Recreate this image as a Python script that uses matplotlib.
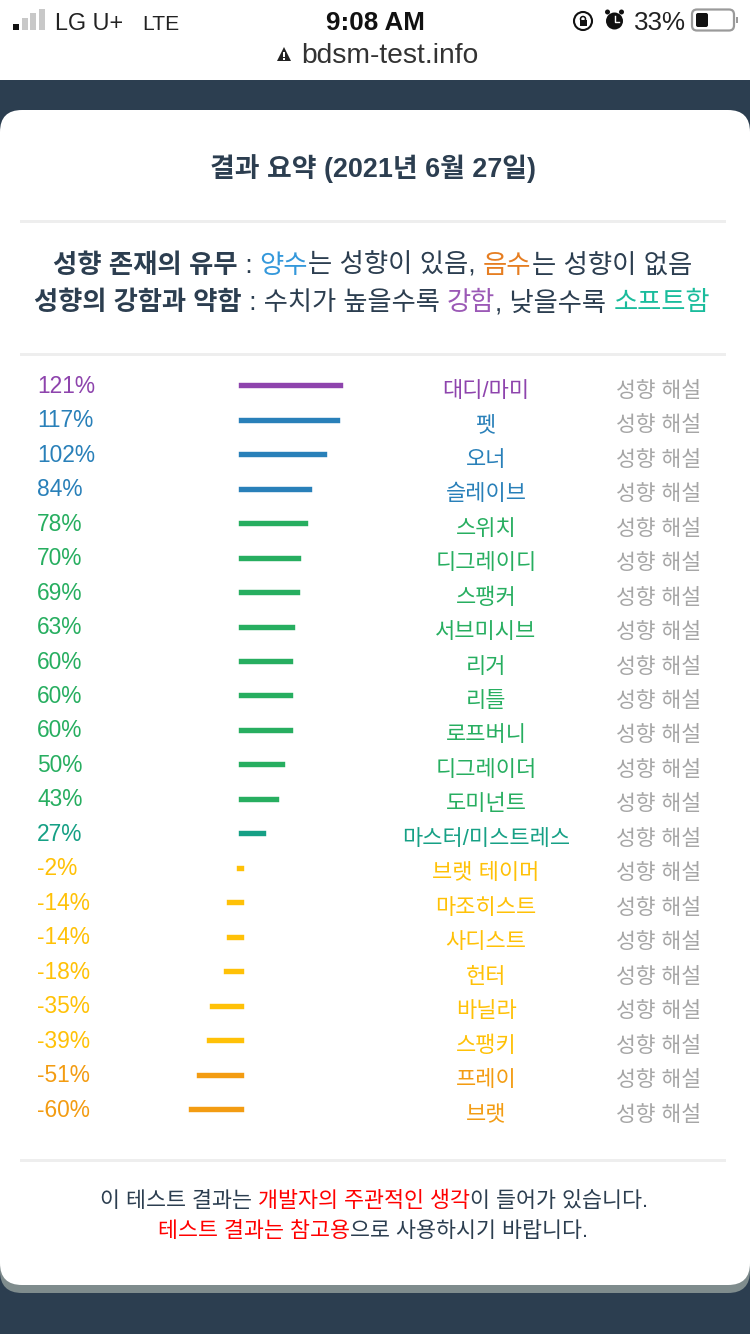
import matplotlib
matplotlib.use('Agg')
import matplotlib.pyplot as plt
from matplotlib.patches import FancyBboxPatch, Rectangle, Polygon, Circle

plt.rcParams['font.family'] = ['Liberation Sans', 'Noto Sans CJK KR', 'DejaVu Sans']

# Params
W, H = 750, 1334
NAVY = '#2c3e50'
PURPLE = '#8e44ad'
BLUE = '#2980b9'
GREEN = '#27ae60'
TEAL = '#16a085'
YELLOW = '#ffc107'
ORANGE = '#f39c12'
GREY = '#a6a6a6'

# Data
names = ['대디/마미', '펫', '오너', '슬레이브', '스위치', '디그레이디', '스팽커', '서브미시브',
         '리거', '리틀', '로프버니', '디그레이더', '도미넌트', '마스터/미스트레스',
         '브랫 테이머', '마조히스트', '사디스트', '헌터', '바닐라', '스팽키', '프레이', '브랫']
values = [121, 117, 102, 84, 78, 70, 69, 63, 60, 60, 60, 50, 43, 27,
          -2, -14, -14, -18, -35, -39, -51, -60]
colors = [PURPLE, BLUE, BLUE, BLUE, GREEN, GREEN, GREEN, GREEN, GREEN, GREEN, GREEN, GREEN, GREEN, TEAL,
          YELLOW, YELLOW, YELLOW, YELLOW, YELLOW, YELLOW, ORANGE, ORANGE]
link_label = '성향 해설'

# Row layout in pixels
row_top = 385.2
row_step = 34.476
zero_px = 240.6
px_per_pct = 0.82


def px(size):
    return size * 72 / 100


fig = plt.figure(figsize=(W / 100, H / 100), dpi=100, facecolor='white')
bg = fig.add_axes([0, 0, 1, 1])
bg.set_xlim(0, W)
bg.set_ylim(H, 0)
bg.axis('off')

# Page background and card
bg.add_patch(Rectangle((0, 80), W, H - 80, fc=NAVY, ec='none', zorder=0))
bg.add_patch(FancyBboxPatch((0, 1240), W, 53, boxstyle='round,pad=0,rounding_size=22',
                            fc='#7f8c8d', ec='none', zorder=1))
bg.add_patch(FancyBboxPatch((0, 110), W, 1175, boxstyle='round,pad=0,rounding_size=22',
                            fc='white', ec='none', zorder=2))

# Separators
for y in [221, 354, 1160]:
    bg.add_patch(Rectangle((20, y - 1.5), 706, 3, fc='#eeeeee', ec='none', zorder=3))


def run_line(parts, y, size, cx=W / 2):
    # parts are (text, color, weight), drawn one after the other and centred on cx
    renderer = fig.canvas.get_renderer()
    items = []
    total = 0
    for text, color, weight in parts:
        t = bg.text(0, y, text, color=color, fontweight=weight, fontsize=px(size), va='baseline',
                    ha='left', zorder=5)
        # trailing spaces are not measured, so measure with a stand-in char
        probe = bg.text(0, y, text.replace(' ', '\u00a0'), fontweight=weight, fontsize=px(size))
        w = probe.get_window_extent(renderer).width
        probe.remove()
        items.append((t, w))
        total += w
    x = cx - total / 2
    for t, w in items:
        t.set_x(x)
        x += w


# Status bar
for bx, h, c in [(13, 6, '#111111'), (21.5, 12, '#c8c8c8'), (30, 17, '#c8c8c8'), (38.5, 21, '#c8c8c8')]:
    bg.add_patch(Rectangle((bx, 30 - h), 6, h, fc=c, ec='none', zorder=5))
bg.text(55, 30, 'LG U+', fontsize=px(23.4), color='#222222', va='baseline')
bg.text(142, 30, 'LTE', fontsize=px(21), color='#222222', va='baseline')
bg.text(375.5, 30, '9:08 AM', fontsize=px(26), color='#111111', ha='center', va='baseline', fontweight='bold')
bg.add_patch(Circle((583, 21), 9, fc='white', ec='#111111', lw=1.5, zorder=5))
bg.add_patch(Rectangle((579.5, 20), 7, 6, fc='#111111', ec='none', zorder=6))
bg.add_patch(Circle((583, 19), 2.5, fc='none', ec='#111111', lw=1.1, zorder=6))
bg.add_patch(Circle((614.5, 21), 8.5, fc='#111111', ec='none', zorder=5))
bg.add_patch(Circle((607.5, 12), 2.5, fc='#111111', ec='none', zorder=5))
bg.add_patch(Circle((621.5, 12), 2.5, fc='#111111', ec='none', zorder=5))
bg.plot([614.5, 614.5, 618.5], [16, 22, 22], color='white', lw=1, zorder=6)
bg.text(634, 30, '33%', fontsize=px(26), color='#222222', va='baseline')
bg.add_patch(FancyBboxPatch((692, 9.5), 42, 21, boxstyle='round,pad=0,rounding_size=5',
                            fc='white', ec='#9a9a9a', lw=1.6, zorder=5))
bg.add_patch(FancyBboxPatch((696, 13), 12, 14, boxstyle='round,pad=0,rounding_size=2',
                            fc='#111111', ec='none', zorder=6))
bg.add_patch(Rectangle((736, 17), 1.5, 6, fc='#9a9a9a', ec='none', zorder=5))

# Address bar
bg.add_patch(Polygon([[277, 61], [291, 61], [284, 47]], fc='#222222', ec='none', zorder=5))
bg.add_patch(Rectangle((283.2, 52), 1.6, 5, fc='white', ec='none', zorder=6))
bg.add_patch(Rectangle((283.2, 58), 1.6, 1.6, fc='white', ec='none', zorder=6))
bg.text(301, 63, 'bdsm-test.info', fontsize=px(28.2), color='#333333', va='baseline')

# Heading and legend text
run_line([('결과 요약 (2021년 6월 27일)', NAVY, 'bold')], 177, 26.9, cx=373)
run_line([('성향 존재의 유무', NAVY, 'bold'), (' : ', NAVY, 'normal'), ('양수', '#3498db', 'normal'),
          ('는 성향이 있음, ', NAVY, 'normal'), ('음수', '#e67e22', 'normal'), ('는 성향이 없음', NAVY, 'normal')],
         273, 26.4, cx=372.5)
run_line([('성향의 강함과 약함', NAVY, 'bold'), (' : 수치가 높을수록 ', NAVY, 'normal'), ('강함', '#9b59b6', 'normal'),
          (', 낮을수록 ', NAVY, 'normal'), ('소프트함', '#1abc9c', 'normal')],
         310, 26.3, cx=372)

# Footer
run_line([('이 테스트 결과는 ', NAVY, 'normal'), ('개발자의 주관적인 생각', '#ff0000', 'normal'),
          ('이 들어가 있습니다.', NAVY, 'normal')], 1207, 21.75, cx=373.5)
run_line([('테스트 결과는 참고용', '#ff0000', 'normal'), ('으로 사용하시기 바랍니다.', NAVY, 'normal')],
         1237, 21.7, cx=373)

# Bars, in percent on x and row number on y
left_px, right_px, top_px, bottom_px = 160, 400, 370, 1125
ax = fig.add_axes([left_px / W, 1 - bottom_px / H, (right_px - left_px) / W, (bottom_px - top_px) / H])
ax.set_xlim((left_px - zero_px) / px_per_pct, (right_px - zero_px) / px_per_pct)
ax.set_ylim((bottom_px - row_top) / row_step, (top_px - row_top) / row_step)
ax.axis('off')
ax.patch.set_alpha(0)
rows = list(range(len(values)))
ax.hlines(rows, 0, values, colors=colors, linewidth=px(5.4), capstyle='projecting', zorder=5)

# Row labels
for i, (name, val, col) in enumerate(zip(names, values, colors)):
    y = row_top + i * row_step
    bg.text(37, y + 7.5, f'{val}%', color=col, fontsize=px(22.7), va='baseline', ha='left', zorder=5)
    bg.text(486, y + 11.5, name, color=col, fontsize=px(22), va='baseline', ha='center', zorder=5)
    bg.text(658, y + 11.5, link_label, color=GREY, fontsize=px(21.5), va='baseline', ha='center', zorder=5)

fig.savefig('out.png', dpi=100)
